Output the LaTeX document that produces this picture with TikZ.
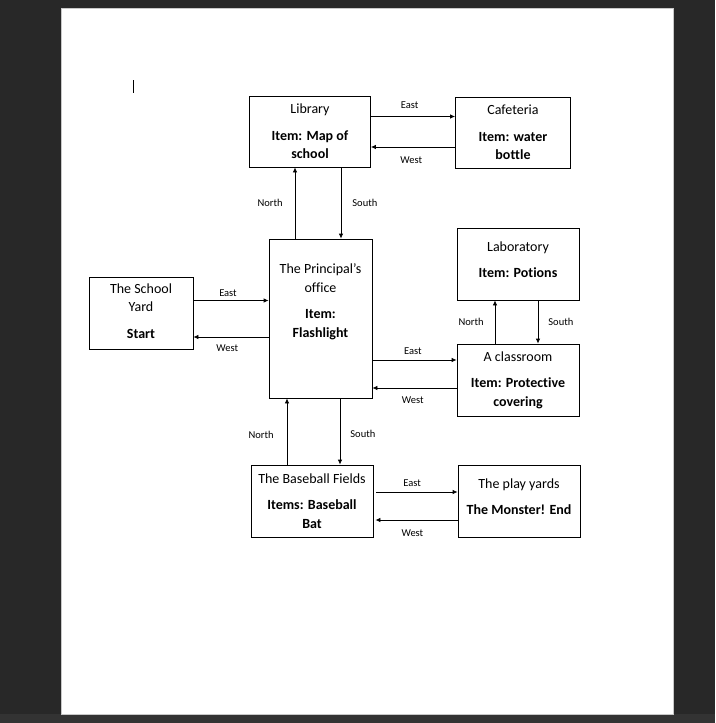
\documentclass[tikz,border=0pt]{standalone}
\usepackage{fontspec}
\setmainfont{Carlito}[Ligatures=NoCommon]
\usepackage{xcolor}
\usetikzlibrary{arrows.meta,positioning}
\definecolor{viewergray}{HTML}{282828}
\definecolor{stripgray}{HTML}{333333}
\definecolor{pageedge}{HTML}{C8C8C8}

\begin{document}
\begin{tikzpicture}[
  x=1pt, y=-1pt,
  >={Latex[length=5pt,width=4.5pt]},
  line width=0.8pt,
  room/.style={rectangle, draw=black, line width=0.8pt, minimum width=122pt, minimum height=72pt, inner sep=2pt, align=center, font=\fontsize{14}{18.5}\selectfont},
  flow/.style={->, draw=black, line width=0.8pt},
  dir/.style={font=\fontsize{10.5}{12}\selectfont, inner sep=1pt}
]
  % page in the viewer
  \fill[viewergray] (0,0) rectangle (715,723);
  \fill[stripgray] (0,714) rectangle (715,723);
  \filldraw[fill=white, draw=pageedge] (61,8) rectangle (673,714);
  \draw[line width=1pt] (133,80) -- (133,93);

  % rooms
  \node[room, minimum width=121pt, minimum height=71pt] (library) at (310,131.5) {Library\\[8pt]\textbf{Item: Map of}\\\textbf{school}};
  \node[room, minimum width=115pt, minimum height=71pt] (cafe) at (513,132.5) {Cafeteria\\[8pt]\textbf{Item: water}\\\textbf{bottle}};
  \node[room, minimum width=103pt, minimum height=159pt] (office) at (320.5,318.5) {The Principal’s\\office\\[8pt]\textbf{Item:}\\\textbf{Flashlight}\\[17pt]\mbox{}};
  \node[room, minimum width=104pt] (yard) at (141,313) {The School\\Yard\\[8pt]\textbf{Start}\\[-14.5pt]\mbox{}};
  \node[room] (lab) at (518,264) {Laboratory\\[8pt]\textbf{Item: Potions}\\[-9.5pt]\mbox{}};
  \node[room] (classroom) at (518,380) {A classroom\\[8pt]\textbf{Item: Protective}\\\textbf{covering}};
  \node[room] (fields) at (312,501) {The Baseball Fields\\[8pt]\textbf{Items: Baseball}\\\textbf{Bat}};
  \node[room] (play) at (519,501) {The play yards\\[8pt]\textbf{The Monster! End}\\[-9.5pt]\mbox{}};

  % library <-> cafeteria
  \draw[flow] ([yshift=15pt]library.east) -- ([yshift=15pt]library.east -| cafe.west) node[dir, above=7pt, pos=0.46] {East};
  \draw[flow] ([yshift=-15.5pt]library.east -| cafe.west) -- ([yshift=-15.5pt]library.east) node[dir, below=8.5pt, pos=0.52] {West};

  % office <-> library
  \draw[flow] ([xshift=-25.5pt]office.north) -- ([xshift=-25.5pt]office.north |- library.south) node[dir, left=11pt, pos=0.5] {North};
  \draw[flow] ([xshift=31pt]library.south) -- ([xshift=31pt]library.south |- office.north) node[dir, right=10pt, pos=0.5] {South};

  % yard <-> office
  \draw[flow] ([yshift=12.5pt]yard.east) -- ([yshift=12.5pt]yard.east -| office.west) node[dir, above=3pt, pos=0.46] {East};
  \draw[flow] ([yshift=-24pt]yard.east -| office.west) -- ([yshift=-24pt]yard.east) node[dir, below=6.7pt, pos=0.55] {West};

  % office <-> classroom
  \draw[flow] ([yshift=20pt]classroom.west -| office.east) -- ([yshift=20pt]classroom.west) node[dir, above=4.5pt, pos=0.48] {East};
  \draw[flow] ([yshift=-8pt]classroom.west) -- ([yshift=-8pt]classroom.west -| office.east) node[dir, below=7.7pt, pos=0.52] {West};

  % classroom <-> laboratory
  \draw[flow] ([xshift=-23pt]classroom.north) -- ([xshift=-23pt]lab.south) node[dir, left=10pt, pos=0.5] {North};
  \draw[flow] ([xshift=20pt]lab.south) -- ([xshift=20pt]classroom.north) node[dir, right=9pt, pos=0.5] {South};

  % fields <-> office
  \draw[flow] ([xshift=-25pt]fields.north) -- ([xshift=-25pt]fields.north |- office.south) node[dir, left=12pt, pos=0.45] {North};
  \draw[flow] ([xshift=28pt]fields.north |- office.south) -- ([xshift=28pt]fields.north) node[dir, right=9pt, pos=0.54] {South};

  % fields <-> play yards
  \draw[flow] ([xshift=3pt,yshift=9pt]fields.east) -- ([yshift=9pt]fields.east -| play.west) node[dir, above=4.5pt, pos=0.44] {East};
  \draw[flow] ([yshift=-19pt]fields.east -| play.west) -- ([xshift=2pt,yshift=-19pt]fields.east) node[dir, below=8.7pt, pos=0.55] {West};
\end{tikzpicture}
\end{document}
